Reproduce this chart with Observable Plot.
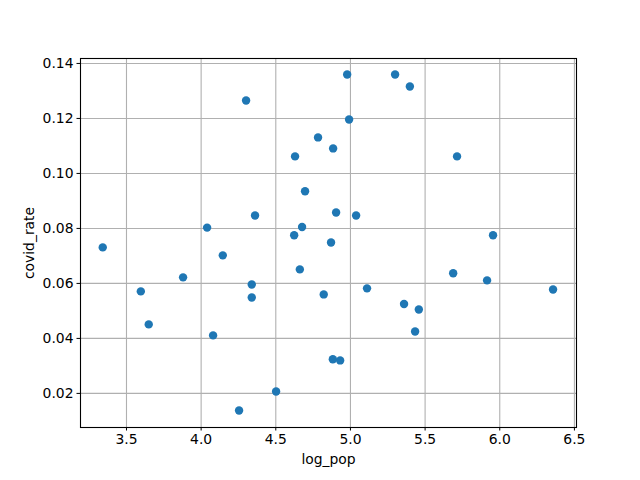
<!DOCTYPE html>
<html>
<head>
<meta charset="utf-8">
<script src="https://cdn.jsdelivr.net/npm/d3@7"></script>
<script src="https://cdn.jsdelivr.net/npm/@observablehq/plot@0.6"></script>
<style>
  html, body { margin: 0; padding: 0; background: #fff; }
  svg { display: block; }
</style>
</head>
<body>
<div id="chart"></div>
<script>
const logPop = [4.301, 4.783, 4.629, 4.696, 4.361, 4.040, 4.676, 4.623, 3.341, 4.884,
  4.870, 4.978, 5.299, 5.398, 4.991, 5.714, 4.904, 5.038, 5.955, 4.145,
  4.661, 3.879, 4.339, 3.596, 4.821, 4.339, 3.649, 4.080, 4.502, 4.254,
  5.688, 5.915, 5.111, 6.357, 5.359, 5.458, 5.433, 4.882, 4.931];
const covidRate = [0.1265, 0.1131, 0.1062, 0.0935, 0.0847, 0.0803, 0.0805, 0.0775, 0.0731, 0.1091,
  0.0749, 0.1360, 0.1360, 0.1316, 0.1196, 0.1062, 0.0858, 0.0847, 0.0775, 0.0702,
  0.0651, 0.0622, 0.0596, 0.0571, 0.0560, 0.0549, 0.0451, 0.0411, 0.0207, 0.0138,
  0.0637, 0.0611, 0.0582, 0.0578, 0.0525, 0.0505, 0.0425, 0.0324, 0.0320];
const xTicks = [3.5, 4.0, 4.5, 5.0, 5.5, 6.0, 6.5];
const yTicks = [0.02, 0.04, 0.06, 0.08, 0.10, 0.12, 0.14];
const xLabel = "log_pop";
const yLabel = "covid_rate";

const data = logPop.map((x, i) => ({x, y: covidRate[i]}));

const chart = Plot.plot({
  width: 640,
  height: 480,
  marginLeft: 80,
  marginRight: 64,
  marginTop: 58,
  marginBottom: 53,
  style: {fontFamily: "DejaVu Sans", fontSize: "13.9px", color: "black", background: "white"},
  x: {domain: [3.192, 6.514]},
  y: {domain: [0.0076, 0.1418]},
  marks: [
    Plot.gridX(xTicks, {stroke: "#b0b0b0", strokeOpacity: 1, strokeWidth: 1.1}),
    Plot.gridY(yTicks, {stroke: "#b0b0b0", strokeOpacity: 1, strokeWidth: 1.1}),
    Plot.dot(data, {x: "x", y: "y", r: 4.2, fill: "#1f77b4", stroke: "none"}),
    Plot.frame({stroke: "black", strokeWidth: 1.1}),
    Plot.axisX(xTicks, {tickSize: 3.5, tickPadding: 3.5, tickFormat: d => d.toFixed(1),
      label: xLabel, labelAnchor: "center", labelArrow: "none", labelOffset: 36}),
    Plot.axisY(yTicks, {tickSize: 3.5, tickPadding: 3.5, tickFormat: d => d.toFixed(2),
      label: yLabel, labelAnchor: "center", labelArrow: "none", labelOffset: 56})
  ]
});
document.getElementById("chart").appendChild(chart);
</script>
</body>
</html>
